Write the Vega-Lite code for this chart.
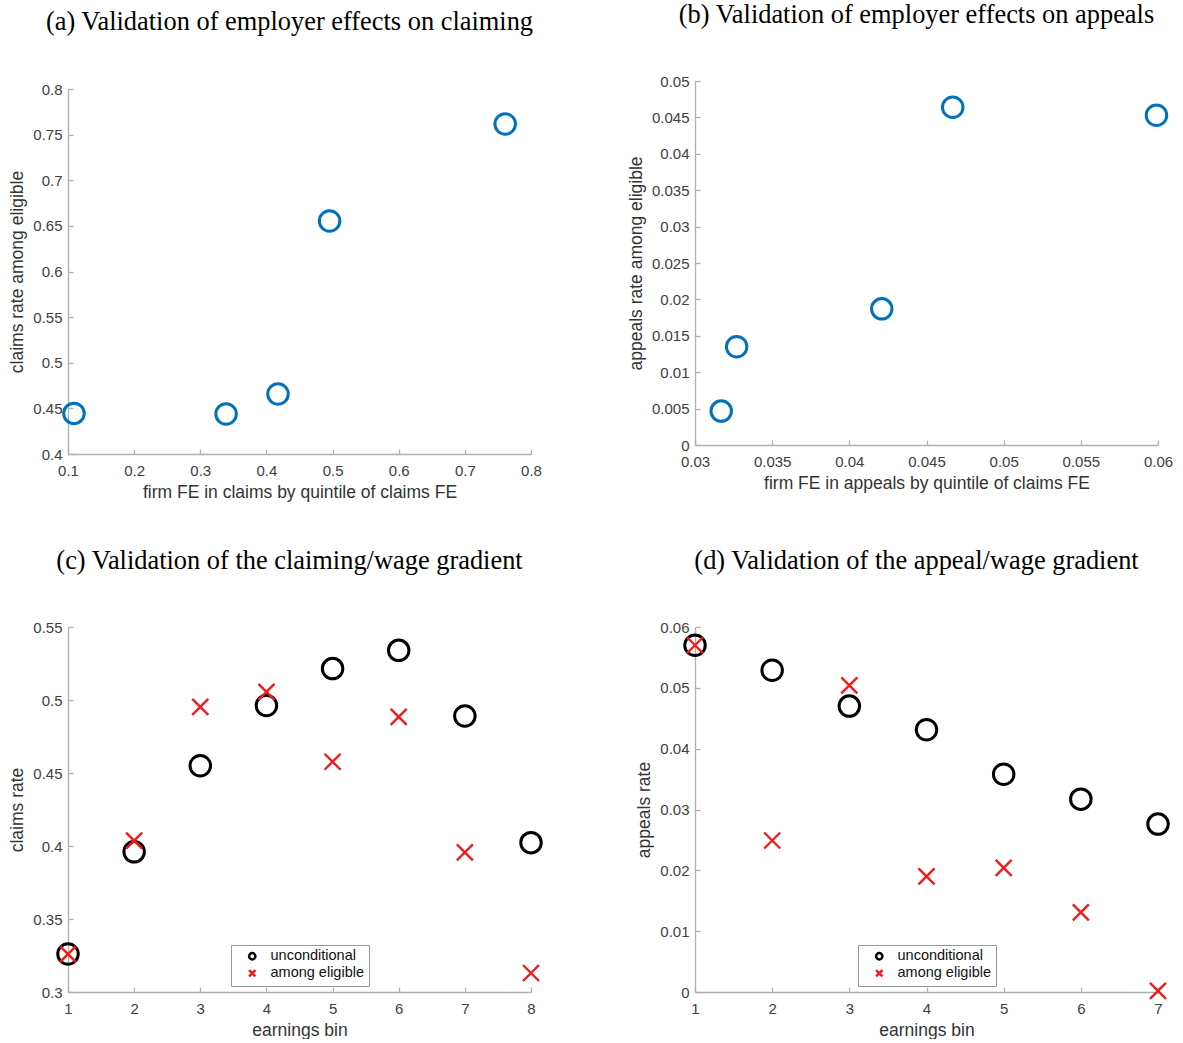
{
  "$schema": "https://vega.github.io/schema/vega-lite/v6.json",
  "padding": {"left": 8, "top": 1, "right": 0, "bottom": 0},
  "background": "white",
  "datasets": {
    "a": [
      {"x": 0.109, "y": 0.4445},
      {"x": 0.339, "y": 0.4438},
      {"x": 0.4175, "y": 0.4658},
      {"x": 0.4955, "y": 0.6553},
      {"x": 0.761, "y": 0.7616}
    ],
    "b": [
      {"x": 0.0317, "y": 0.00466},
      {"x": 0.0327, "y": 0.0135},
      {"x": 0.0421, "y": 0.0187},
      {"x": 0.0467, "y": 0.0464},
      {"x": 0.0599, "y": 0.0453}
    ],
    "c": [
      {"bin": 1, "rate": 0.326, "series": "unconditional"},
      {"bin": 2, "rate": 0.396, "series": "unconditional"},
      {"bin": 3, "rate": 0.455, "series": "unconditional"},
      {"bin": 4, "rate": 0.4962, "series": "unconditional"},
      {"bin": 5, "rate": 0.5215, "series": "unconditional"},
      {"bin": 6, "rate": 0.534, "series": "unconditional"},
      {"bin": 7, "rate": 0.489, "series": "unconditional"},
      {"bin": 8, "rate": 0.4023, "series": "unconditional"},
      {"bin": 1, "rate": 0.326, "series": "among eligible"},
      {"bin": 2, "rate": 0.4037, "series": "among eligible"},
      {"bin": 3, "rate": 0.4953, "series": "among eligible"},
      {"bin": 4, "rate": 0.5056, "series": "among eligible"},
      {"bin": 5, "rate": 0.4577, "series": "among eligible"},
      {"bin": 6, "rate": 0.4885, "series": "among eligible"},
      {"bin": 7, "rate": 0.3957, "series": "among eligible"},
      {"bin": 8, "rate": 0.313, "series": "among eligible"}
    ],
    "d": [
      {"bin": 1, "rate": 0.057, "series": "unconditional"},
      {"bin": 2, "rate": 0.0529, "series": "unconditional"},
      {"bin": 3, "rate": 0.047, "series": "unconditional"},
      {"bin": 4, "rate": 0.0431, "series": "unconditional"},
      {"bin": 5, "rate": 0.0358, "series": "unconditional"},
      {"bin": 6, "rate": 0.0317, "series": "unconditional"},
      {"bin": 7, "rate": 0.0276, "series": "unconditional"},
      {"bin": 1, "rate": 0.057, "series": "among eligible"},
      {"bin": 2, "rate": 0.0249, "series": "among eligible"},
      {"bin": 3, "rate": 0.0504, "series": "among eligible"},
      {"bin": 4, "rate": 0.019, "series": "among eligible"},
      {"bin": 5, "rate": 0.0204, "series": "among eligible"},
      {"bin": 6, "rate": 0.0131, "series": "among eligible"},
      {"bin": 7, "rate": 0.0002, "series": "among eligible"}
    ]
  },
  "bounds": "flush",
  "columns": 2,
  "spacing": {"column": 164, "row": 173},
  "concat": [
    {
      "width": 463,
      "height": 373,
      "title": "(a) Validation of employer effects on claiming",
      "data": {"name": "a"},
      "mark": {"type": "point", "filled": false, "size": 420, "strokeWidth": 3, "color": "#0072BD", "opacity": 1},
      "encoding": {
        "x": {"field": "x", "type": "quantitative",
          "scale": {"domain": [0.1, 0.8], "nice": false, "zero": false},
          "axis": {"values": [0.1, 0.2, 0.3, 0.4, 0.5, 0.6, 0.7, 0.8], "format": "~g", "title": "firm FE in claims by quintile of claims FE"}},
        "y": {"field": "y", "type": "quantitative",
          "scale": {"domain": [0.4, 0.8], "nice": false, "zero": false, "range": [373, 8]},
          "axis": {"values": [0.4, 0.45, 0.5, 0.55, 0.6, 0.65, 0.7, 0.75, 0.8], "format": "~g", "title": "claims rate among eligible"}}
      }
    },
    {
      "width": 463,
      "height": 364,
      "title": "(b) Validation of employer effects on appeals",
      "data": {"name": "b"},
      "mark": {"type": "point", "filled": false, "size": 420, "strokeWidth": 3, "color": "#0072BD", "opacity": 1},
      "encoding": {
        "x": {"field": "x", "type": "quantitative",
          "scale": {"domain": [0.03, 0.06], "nice": false, "zero": false},
          "axis": {"values": [0.03, 0.035, 0.04, 0.045, 0.05, 0.055, 0.06], "format": "~g", "title": "firm FE in appeals by quintile of claims FE"}},
        "y": {"field": "y", "type": "quantitative",
          "scale": {"domain": [0, 0.05], "nice": false, "zero": false},
          "axis": {"values": [0, 0.005, 0.01, 0.015, 0.02, 0.025, 0.03, 0.035, 0.04, 0.045, 0.05], "format": "~g", "title": "appeals rate among eligible"}}
      }
    },
    {
      "width": 463,
      "height": 365,
      "title": "(c) Validation of the claiming/wage gradient",
      "data": {"name": "c"},
      "encoding": {
        "x": {"field": "bin", "type": "quantitative",
          "scale": {"domain": [1, 8], "nice": false, "zero": false},
          "axis": {"values": [1, 2, 3, 4, 5, 6, 7, 8], "format": "~g", "title": "earnings bin"}},
        "y": {"field": "rate", "type": "quantitative",
          "scale": {"domain": [0.3, 0.55], "nice": false, "zero": false},
          "axis": {"values": [0.3, 0.35, 0.4, 0.45, 0.5, 0.55], "format": "~g", "title": "claims rate"}},
        "shape": {"field": "series", "type": "nominal",
          "scale": {"domain": ["unconditional", "among eligible"], "range": ["circle", "M-1,-1L1,1M-1,1L1,-1"]},
          "legend": {"title": null, "orient": "none", "legendX": 163, "legendY": 318}},
        "color": {"field": "series", "type": "nominal",
          "scale": {"domain": ["unconditional", "among eligible"], "range": ["#000000", "#ee1c1c"]},
          "legend": {"title": null, "orient": "none", "legendX": 163, "legendY": 318}}
      },
      "layer": [
        {"transform": [{"filter": "datum.series === 'unconditional'"}],
         "mark": {"type": "point", "filled": false, "opacity": 1, "size": 420, "strokeWidth": 3}},
        {"transform": [{"filter": "datum.series === 'among eligible'"}],
         "mark": {"type": "point", "filled": false, "opacity": 1, "size": 256, "strokeWidth": 2.4}}
      ]
    },
    {
      "width": 463,
      "height": 365,
      "title": "(d) Validation of the appeal/wage gradient",
      "data": {"name": "d"},
      "encoding": {
        "x": {"field": "bin", "type": "quantitative",
          "scale": {"domain": [1, 7], "nice": false, "zero": false},
          "axis": {"values": [1, 2, 3, 4, 5, 6, 7], "format": "~g", "title": "earnings bin"}},
        "y": {"field": "rate", "type": "quantitative",
          "scale": {"domain": [0, 0.06], "nice": false, "zero": false},
          "axis": {"values": [0, 0.01, 0.02, 0.03, 0.04, 0.05, 0.06], "format": "~g", "title": "appeals rate"}},
        "shape": {"field": "series", "type": "nominal",
          "scale": {"domain": ["unconditional", "among eligible"], "range": ["circle", "M-1,-1L1,1M-1,1L1,-1"]},
          "legend": {"title": null, "orient": "none", "legendX": 163, "legendY": 318}},
        "color": {"field": "series", "type": "nominal",
          "scale": {"domain": ["unconditional", "among eligible"], "range": ["#000000", "#ee1c1c"]},
          "legend": {"title": null, "orient": "none", "legendX": 163, "legendY": 318}}
      },
      "layer": [
        {"transform": [{"filter": "datum.series === 'unconditional'"}],
         "mark": {"type": "point", "filled": false, "opacity": 1, "size": 420, "strokeWidth": 3}},
        {"transform": [{"filter": "datum.series === 'among eligible'"}],
         "mark": {"type": "point", "filled": false, "opacity": 1, "size": 256, "strokeWidth": 2.4}}
      ]
    }
  ],
  "resolve": {"scale": {"color": "independent", "shape": "independent"}},
  "config": {
    "view": {"stroke": null},
    "font": "Liberation Sans",
    "axis": {
      "grid": false,
      "domainColor": "#b0b0b0",
      "domainWidth": 1.3,
      "tickColor": "#b0b0b0",
      "tickWidth": 1.3,
      "tickSize": -5,
      "labelFont": "Liberation Sans",
      "labelFontSize": 15,
      "labelColor": "#404040",
      "labelOverlap": false,
      "labelFlush": false,
      "labelBound": false,
      "titleFont": "Liberation Sans",
      "titleFontSize": 17.5,
      "titleFontWeight": "normal",
      "titleColor": "#333333"
    },
    "axisX": {"labelPadding": 14, "titlePadding": 5},
    "axisY": {"labelPadding": 11, "titlePadding": 6},
    "title": {
      "font": "Liberation Serif",
      "fontSize": 26.4,
      "fontWeight": "normal",
      "color": "#000000",
      "anchor": "middle",
      "frame": "group",
      "baseline": "bottom",
      "offset": 46,
      "dx": -10
    },
    "legend": {
      "strokeColor": "#999999",
      "fillColor": "white",
      "padding": 4,
      "rowPadding": 0,
      "symbolSize": 40,
      "symbolStrokeWidth": 2.5,
      "symbolOffset": 10,
      "labelOffset": 11,
      "labelFont": "Liberation Sans",
      "labelFontSize": 14.5,
      "labelColor": "#111111"
    }
  }
}
